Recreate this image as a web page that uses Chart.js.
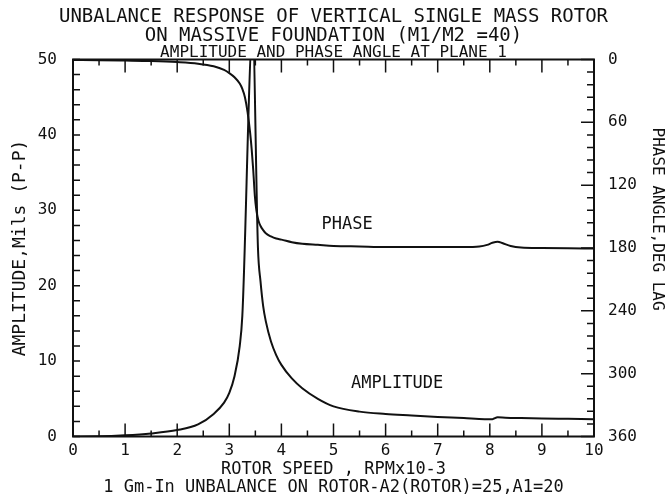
<!DOCTYPE html>
<html>
<head>
<meta charset="utf-8">
<title>Unbalance response</title>
<script src="https://cdn.jsdelivr.net/npm/chart.js@4.4.0/dist/chart.umd.min.js"></script>
<style>
  html, body { margin: 0; padding: 0; background: #fff; }
  #wrap { width: 667px; height: 499px; }
</style>
</head>
<body>
<div id="wrap"><canvas id="rotorChart"></canvas></div>
<script>
// Rotor speed in RPM x 10^-3
const ampRpm = [0, 0.5, 1.0, 1.5, 2.0, 2.4, 2.7, 2.9, 3.0, 3.1, 3.2, 3.25, 3.45, 3.55, 3.6, 3.65, 3.7, 3.8, 3.9, 4.0, 4.2, 4.4, 4.7, 5.0, 5.5, 6.0, 6.5, 7.0, 7.5, 7.9, 8.05, 8.15, 8.3, 8.6, 9.0, 9.5, 10];
// Peak-to-peak amplitude, mils
const amplitude = [0, 0.02, 0.15, 0.4, 0.85, 1.6, 3.0, 4.5, 5.8, 8.0, 12.0, 16.0, 54.0, 25.0, 20.5, 17.3, 15.3, 12.6, 10.8, 9.5, 7.7, 6.4, 5.0, 4.0, 3.3, 3.0, 2.8, 2.6, 2.45, 2.3, 2.3, 2.55, 2.5, 2.45, 2.4, 2.35, 2.3];

const phaseRpm = [0, 0.5, 1.0, 1.5, 2.0, 2.4, 2.7, 2.9, 3.0, 3.1, 3.2, 3.25, 3.3, 3.35, 3.4, 3.43, 3.46, 3.49, 3.52, 3.56, 3.6, 3.65, 3.7, 3.8, 3.9, 4.0, 4.2, 4.4, 4.7, 5.0, 5.5, 6.0, 7.0, 7.5, 7.8, 7.95, 8.05, 8.15, 8.25, 8.4, 8.6, 9.0, 9.5, 10];
// Phase angle, degrees lag
const phaseLag = [0.5, 0.6, 1, 1.5, 2.5, 4, 6.5, 10, 13, 17, 23, 28, 36, 50, 70, 86, 106, 130, 144, 154, 159, 163, 166, 169, 171, 172, 174.5, 176, 177, 178, 178.5, 179, 179, 179, 178.5, 177, 175, 174, 175.5, 178, 179.5, 180, 180.3, 180.5];

const INK = '#111';
const FONT = '"DejaVu Sans Mono", "Liberation Mono", monospace';

Chart.defaults.font.family = FONT;
Chart.defaults.color = INK;

// Frame, inward tick marks and curve captions
const plotFrame = {
  id: 'plotFrame',
  afterDatasetsDraw(chart) {
    const { ctx, chartArea: a, scales } = chart;
    ctx.save();
    ctx.strokeStyle = INK;
    ctx.lineWidth = 2;
    ctx.strokeRect(a.left, a.top, a.right - a.left, a.bottom - a.top);

    ctx.lineWidth = 1.5;
    ctx.beginPath();
    for (let v = 0; v <= 10; v += 0.5) {
      const px = scales.x.getPixelForValue(v);
      const len = Number.isInteger(v) ? 13 : 6;
      ctx.moveTo(px, a.bottom);
      ctx.lineTo(px, a.bottom - len);
      ctx.moveTo(px, a.top);
      ctx.lineTo(px, a.top + len);
    }
    for (let v = 0; v <= 50; v += 2) {
      const py = scales.y.getPixelForValue(v);
      ctx.moveTo(a.left, py);
      ctx.lineTo(a.left + 7, py);
    }
    for (let v = 0; v <= 360; v += 12) {
      const py = scales.y2.getPixelForValue(v);
      const len = v % 60 === 0 ? 13 : 7;
      ctx.moveTo(a.right, py);
      ctx.lineTo(a.right - len, py);
    }
    ctx.stroke();

    ctx.fillStyle = INK;
    ctx.font = '17px ' + FONT;
    ctx.textAlign = 'center';
    ctx.textBaseline = 'middle';
    ctx.fillText('PHASE', scales.x.getPixelForValue(5.26), scales.y2.getPixelForValue(158));
    ctx.fillText('AMPLITUDE', scales.x.getPixelForValue(6.22), scales.y.getPixelForValue(7.0));
    ctx.restore();
  }
};

const lineStyle = {
  borderColor: INK,
  backgroundColor: INK,
  borderWidth: 2,
  pointRadius: 0,
  fill: false,
  cubicInterpolationMode: 'monotone'
};

new Chart(document.getElementById('rotorChart'), {
  type: 'line',
  data: {
    datasets: [
      {
        ...lineStyle,
        label: 'AMPLITUDE',
        yAxisID: 'y',
        data: ampRpm.map((x, i) => ({ x, y: amplitude[i] }))
      },
      {
        ...lineStyle,
        label: 'PHASE',
        yAxisID: 'y2',
        data: phaseRpm.map((x, i) => ({ x, y: phaseLag[i] }))
      }
    ]
  },
  options: {
    responsive: true,
    maintainAspectRatio: false,
    animation: false,
    layout: { padding: 0 },
    plugins: {
      legend: { display: false },
      tooltip: { enabled: false },
      title: {
        display: true,
        text: ['UNBALANCE RESPONSE OF VERTICAL SINGLE MASS ROTOR', 'ON MASSIVE FOUNDATION (M1/M2 =40)'],
        color: INK,
        font: { size: 19, weight: 'normal', lineHeight: 1.0 },
        padding: { top: 7.5, bottom: 0 }
      },
      subtitle: {
        display: true,
        text: 'AMPLITUDE AND PHASE ANGLE AT PLANE 1',
        color: INK,
        font: { size: 16, weight: 'normal', lineHeight: 0.875 },
        padding: { top: 0, bottom: 0 }
      }
    },
    scales: {
      x: {
        type: 'linear',
        min: 0,
        max: 10,
        afterFit(scale) { scale.height = 62.5; },
        grid: { display: false, drawTicks: false },
        border: { display: false },
        ticks: { stepSize: 1, padding: 5, font: { size: 16 }, maxRotation: 0 },
        title: {
          display: true,
          text: ['ROTOR SPEED , RPMx10-3', '1 Gm-In UNBALANCE ON ROTOR-A2(ROTOR)=25,A1=20'],
          font: { size: 17, lineHeight: 1.06 },
          padding: { top: 0, bottom: 2 }
        }
      },
      y: {
        type: 'linear',
        position: 'left',
        min: 0,
        max: 50,
        afterFit(scale) { scale.width = 73; },
        grid: { display: false, drawTicks: false },
        border: { display: false },
        ticks: { stepSize: 10, padding: 16, font: { size: 16 } },
        title: {
          display: true,
          text: 'AMPLITUDE,Mils (P-P)',
          font: { size: 18, lineHeight: 1 },
          padding: { top: 11, bottom: 0 }
        }
      },
      y2: {
        type: 'linear',
        position: 'right',
        min: 0,
        max: 360,
        reverse: true,
        afterFit(scale) { scale.width = 73; },
        grid: { display: false, drawTicks: false },
        border: { display: false },
        ticks: { stepSize: 60, padding: 14, font: { size: 16 } },
        title: {
          display: true,
          text: 'PHASE ANGLE,DEG LAG      ',
          font: { size: 16, lineHeight: 1 },
          padding: { top: 2, bottom: 0 }
        }
      }
    }
  },
  plugins: [plotFrame]
});
</script>
</body>
</html>
